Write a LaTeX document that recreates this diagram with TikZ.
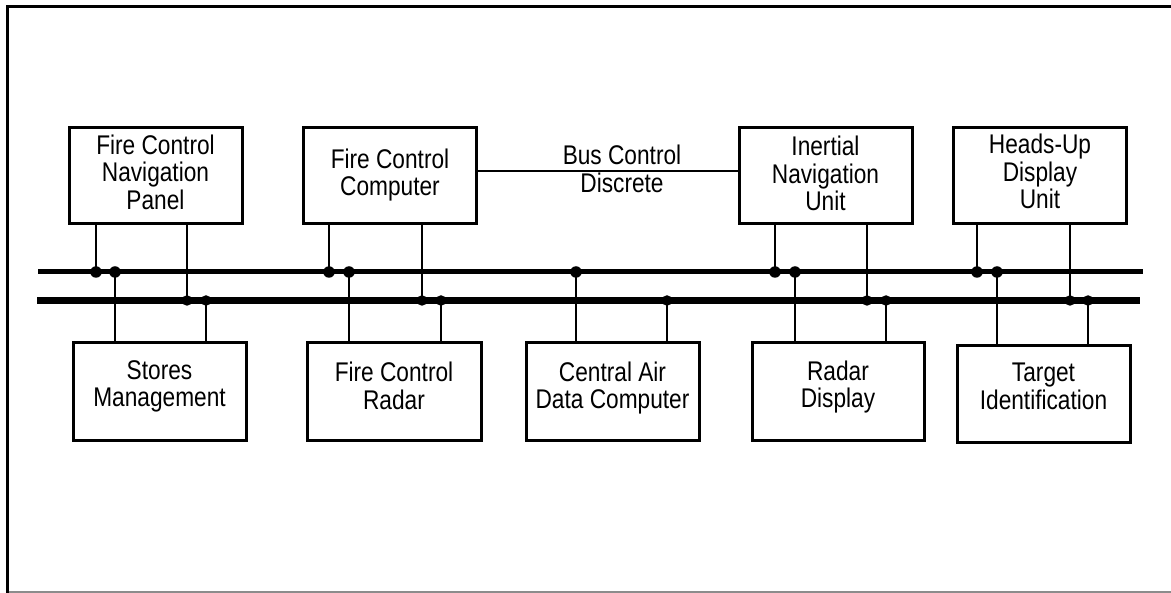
\documentclass[tikz,border=0pt]{standalone}
\usepackage{fontspec}
\setmainfont{Liberation Sans}[FakeStretch=0.84]
\begin{document}
\begin{tikzpicture}[x=1pt,y=-1pt,
  box/.style={draw=black,line width=3pt,minimum width=#1,inner sep=0pt},
  box/.default=173pt,
  txt/.style={inner sep=0pt,align=center,font=\fontsize{27}{27.5}\selectfont},
  thin/.style={line width=1.4pt},
  busa/.style={line width=5pt},
  busb/.style={line width=7.5pt},
  dota/.style={circle,fill=black,inner sep=0pt,minimum size=11.5pt},
  dotb/.style={circle,fill=black,inner sep=0pt,minimum size=10.5pt}]
\useasboundingbox (0,0) rectangle (1171,593);
% frame
\draw[line width=3pt] (1171,6.5) -- (7,6.5) -- (7,593);
\draw[line width=2pt,black!45] (8.5,592) -- (1171,592);
% top boxes
\node[box,minimum height=96pt] (fcnp) at (155.5,176) {};
\node[box,minimum height=96pt] (fcc)  at (390,176) {};
\node[box,minimum height=96pt] (inu)  at (825.5,176) {};
\node[box,minimum height=96pt] (hud)  at (1040,176) {};
% bottom boxes
\node[box,minimum height=98pt] (sm)   at (159.5,392) {};
\node[box=174pt,minimum height=98pt] (fcr)  at (394,392) {};
\node[box,minimum height=98pt] (cadc) at (612.5,392) {};
\node[box=172pt,minimum height=98pt] (rd)   at (838,392) {};
\node[box,minimum height=97pt] (ti)   at (1043.5,394.5) {};
% texts
\node[txt] (fcnpT) at (155.5,172) {Fire Control\\Navigation\\Panel};
\node[txt] (fccT)  at (390,175) {Fire Control\\Computer};
\node[txt] (inuT)  at (825.5,173.5) {Inertial\\Navigation\\Unit};
\node[txt] (hudT)  at (1040,171.5) {Heads-Up\\Display\\Unit};
\node[txt] (smT)   at (159.5,386.5) {Stores\\Management};
\node[txt] (fcrT)  at (394,386) {Fire Control\\Radar};
\node[txt] (cadcT) at (612.5,388) {Central Air\\Data Computer};
\node[txt] (rdT)   at (838,387) {Radar\\Display};
\node[txt] (tiT)   at (1043.5,386.5) {Target\\Identification};
\node[txt] (bcd)   at (622,169) {Bus Control\\Discrete};
% bus control discrete line
\draw[thin] ([yshift=5pt]fcc.east) -- ([yshift=5pt]inu.west);
% buses
\coordinate (a1) at (38,272);  \coordinate (a2) at (1143,272);
\coordinate (b1) at (37,300.5); \coordinate (b2) at (1140,300.5);
\draw[busa] (a1) -- (a2);
\draw[busb] (b1) -- (b2);
% taps on bus A
\foreach \n/\x/\bx in {ta1/96/fcnp, ta3/329/fcc, ta6/775/inu, ta8/977/hud}{
  \node[dota] (\n) at (\x,272) {};
  \draw[thin] (\n.center) -- (\n.center |- \bx.south);
}
\foreach \n/\x/\bx in {ta2/115/sm, ta4/349/fcr, ta5/576/cadc, ta7/795/rd, ta9/997/ti}{
  \node[dota] (\n) at (\x,272) {};
  \draw[thin] (\n.center) -- (\n.center |- \bx.north);
}
% taps on bus B
\foreach \n/\x/\bx in {tb1/187/fcnp, tb3/422/fcc, tb6/867/inu, tb8/1070/hud}{
  \node[dotb] (\n) at (\x,300.5) {};
  \draw[thin] (\n.center) -- (\n.center |- \bx.south);
}
\foreach \n/\x/\bx in {tb2/206/sm, tb4/441/fcr, tb5/667/cadc, tb7/886/rd, tb9/1088/ti}{
  \node[dotb] (\n) at (\x,300.5) {};
  \draw[thin] (\n.center) -- (\n.center |- \bx.north);
}
\end{tikzpicture}
\end{document}
